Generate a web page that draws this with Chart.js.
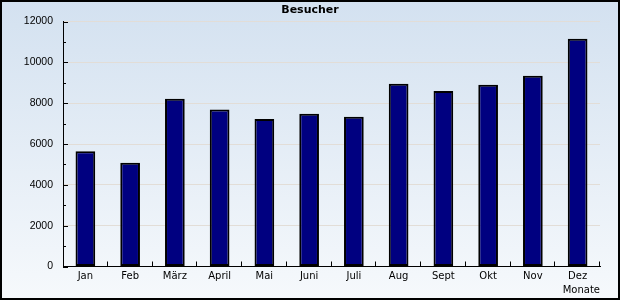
<!DOCTYPE html>
<html>
<head>
<meta charset="utf-8">
<script src="https://cdn.jsdelivr.net/npm/chart.js@4.4.0/dist/chart.umd.min.js"></script>
<style>
  html, body { margin: 0; padding: 0; background: #fff; }
  #wrap { width: 620px; height: 300px; }
</style>
</head>
<body>
<div id="wrap"><canvas id="c" width="620" height="300"></canvas></div>
<script>
const categories = ["Jan", "Feb", "März", "April", "Mai", "Juni", "Juli", "Aug", "Sept", "Okt", "Nov", "Dez"];
const besucher = [5650, 5080, 8220, 7690, 7230, 7480, 7330, 8950, 8600, 8900, 9340, 11150];
const yMin = 0, yMax = 12000, yMajorStep = 2000, yMinorStep = 1000;
const chartTitle = "Besucher";
const xTitle = "Monate";

const bgPlugin = {
  id: 'bg',
  beforeDraw(chart) {
    const ctx = chart.ctx;
    const g = ctx.createLinearGradient(0, 0, 0, chart.height);
    g.addColorStop(0, '#d3e1f0');
    g.addColorStop(1, '#f6f9fc');
    ctx.save();
    ctx.fillStyle = g;
    ctx.fillRect(0, 0, chart.width, chart.height);
    ctx.restore();
  },
  afterDraw(chart) {
    const ctx = chart.ctx;
    const ys = chart.scales.y;
    const area = chart.chartArea;
    ctx.save();
    ctx.strokeStyle = '#000';
    ctx.lineWidth = 1;
    ctx.beginPath();
    for (let v = yMin; v <= yMax; v += yMinorStep) {
      const py = Math.round(ys.getPixelForValue(v)) + 0.5;
      const len = (v % yMajorStep === 0) ? 5 : 3;
      ctx.moveTo(area.left, py);
      ctx.lineTo(area.left + len, py);
    }
    const n = categories.length;
    for (let i = 1; i <= n; i++) {
      const px = Math.round(area.left + (area.right - area.left) * i / n) - 0.5;
      ctx.moveTo(px, area.bottom);
      ctx.lineTo(px, area.bottom - 5);
    }
    ctx.stroke();
    ctx.lineWidth = 2;
    ctx.strokeRect(1, 1, chart.width - 2, chart.height - 2);
    ctx.restore();
  }
};

new Chart(document.getElementById('c'), {
  type: 'bar',
  data: {
    labels: categories,
    datasets: [{
      label: chartTitle,
      data: besucher,
      backgroundColor: '#000080',
      borderColor: '#000000',
      borderWidth: 2,
      borderSkipped: false,
      barPercentage: 0.44,
      categoryPercentage: 1.0
    }]
  },
  options: {
    responsive: false,
    devicePixelRatio: 1,
    animation: false,
    layout: { padding: { left: 0, right: 0, top: 0, bottom: 0 } },
    plugins: {
      legend: { display: false },
      tooltip: { enabled: false },
      title: {
        display: true,
        text: chartTitle,
        color: '#000',
        font: { family: 'DejaVu Sans', size: 11, weight: 'bold', lineHeight: 1.2 },
        padding: { top: 4, bottom: 4.3 }
      }
    },
    scales: {
      x: {
        grid: { display: false, drawTicks: false },
        border: { display: true, color: '#000', width: 1 },
        ticks: {
          color: '#000',
          font: { family: 'DejaVu Sans', size: 10, lineHeight: 1.2 },
          padding: 4,
          maxRotation: 0,
          autoSkip: false
        },
        title: {
          display: true,
          text: xTitle,
          align: 'end',
          color: '#000',
          font: { family: 'DejaVu Sans', size: 10, lineHeight: 1.2 },
          padding: { top: 4, bottom: 4 }
        },
        afterFit(scale) { scale.height = 33.5; }
      },
      y: {
        min: yMin,
        max: yMax,
        grid: {
          drawTicks: false,
          color: (c) => (c.tick && c.tick.value % yMajorStep === 0 && c.tick.value !== 0) ? '#e2ddd7' : 'rgba(0,0,0,0)',
          lineWidth: 1
        },
        border: { display: true, color: '#000', width: 1 },
        ticks: {
          stepSize: yMinorStep,
          color: '#000',
          font: { family: 'Liberation Sans', size: 10.5 },
          padding: 10,
          callback: (v) => (v % yMajorStep === 0) ? String(v) : ''
        },
        afterFit(scale) { scale.width = 63; }
      },
      yRight: {
        type: 'linear',
        position: 'right',
        min: yMin,
        max: yMax,
        grid: { display: false, drawTicks: false },
        border: { display: false },
        ticks: { display: false },
        afterFit(scale) { scale.width = 20; }
      }
    }
  },
  plugins: [bgPlugin]
});
</script>
</body>
</html>
